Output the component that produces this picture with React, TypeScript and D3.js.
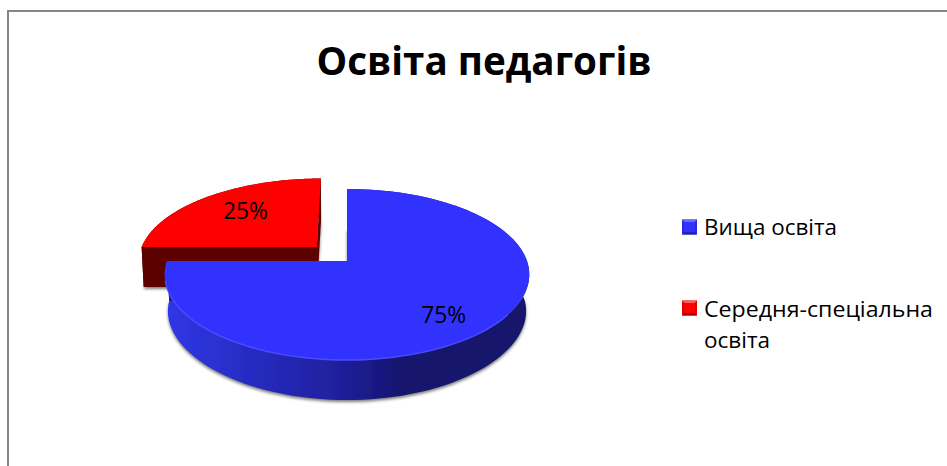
import React from "react";
import * as d3 from "d3";

const categories = ["Вища освіта", "Середня-спеціальна освіта"];
const shares = [75, 25];
const percentLabels = ["75%", "25%"];
const legendLines = [["Вища освіта"], ["Середня-спеціальна", "освіта"]];
const title = "Освіта педагогів";

const W = 947, H = 466;
const FONT = "'Open Sans', 'Noto Sans', sans-serif";
const APEX = { x: 347, y: 261 };
const RX = 180, RY = 83.4, PERSPECTIVE = -0.158, DEPTH = 40;
const BOTTOM_SCALE = [0.988, 0.99];
const BOTTOM_TAPER = [0.04, 0];
const EXPLODE = [0, 0.172];
const TOP_COLORS = ["#3333ff", "#ff0000"];
const WALL_COLORS = ["#1c1c90", "#5c0000"];
const MARKER_LIGHT = ["#6a6aff", "#ff5a5a"];
const MARKER_SIDE = ["#2c2cdc", "#e00000"];
const MARKER_DARK = ["#2020b4", "#b00000"];
const LABEL_NUDGE = [[0, 9], [7, 0]];
const LEGEND_BOX = [{ y: 219.5 }, { y: 300.5 }];
const LEGEND_BASE = [[235], [317, 348]];
const LEGEND_WIDTHS = [[133], [229, 66]];

type P = [number, number];
const project = (u: number, v: number, scale = 1, taper = 0, drop = 0): P => {
  const w = 1 + PERSPECTIVE * v;
  const s = scale - taper * Math.max(v, 0);
  return [APEX.x + (RX * u * s) / w, APEX.y + (RY * v) / w + drop];
};
const onPie = (angle: number, r: number, e: number, i = -1): P =>
  i < 0
    ? project(Math.sin(angle) * r - e, -Math.cos(angle) * r - e)
    : project(Math.sin(angle) * r - e, -Math.cos(angle) * r - e, BOTTOM_SCALE[i], BOTTOM_TAPER[i], DEPTH);

const line = d3.line<P>();
const arcs = d3.pie<number>().sort(null).startAngle(0).endAngle(2 * Math.PI)(shares);

const rim = (a: d3.PieArcDatum<number>, e: number, i = -1): P[] =>
  d3.range(0, 121).map((k) => {
    const t = a.startAngle + ((a.endAngle - a.startAngle) * k) / 120;
    return onPie(t, 1, e, i);
  });

const App = () => {
  const xGrad = d3.scaleLinear().domain([165, 528]).range([0, 1]);
  return (
    <svg width={W} height={H} viewBox={`0 0 ${W} ${H}`}
      style={{ position: "fixed", left: 0, top: 0, background: "#fff" }}>
      <defs>
        <linearGradient id="side" gradientUnits="userSpaceOnUse" x1={165} x2={528} y1={0} y2={0}>
          <stop offset={xGrad(165)} stopColor="#2f37e6" />
          <stop offset={xGrad(340)} stopColor="#1f1f9c" />
          <stop offset={xGrad(405)} stopColor="#14146c" />
          <stop offset={xGrad(528)} stopColor="#14146c" />
        </linearGradient>
        <filter id="soft" x="-10%" y="-10%" width="120%" height="120%">
          <feGaussianBlur stdDeviation="1.7" />
        </filter>
        <filter id="aa"><feGaussianBlur stdDeviation="0.4" /></filter>
      </defs>

      <path d={`M8 ${H}V11H${W}`} fill="none" stroke="#868686" strokeWidth={2} />

      <text x={484} y={75} textAnchor="middle" fontFamily={FONT} fontWeight={700}
        fontSize={40} fill="#000" textLength={335} lengthAdjust="spacingAndGlyphs">{title}</text>

      {arcs.map((a, i) => {
        const e = EXPLODE[i];
        const base = [onPie(0, 0, e, i), ...rim(a, e, i)];
        return <path key={i} d={line(base) + "Z"} transform="translate(0,2)" fill="#444"
          opacity={0.7} filter="url(#soft)" />;
      }).reverse()}

      {[1, 0].map((i) => {
        const a = arcs[i], e = EXPLODE[i];
        const top = rim(a, e), bot = rim(a, e, i);
        const apexTop = onPie(0, 0, e), apexBot = onPie(0, 0, e, i);
        const fill = i === 0 ? "url(#side)" : WALL_COLORS[1];
        return (
          <g key={i} filter="url(#aa)">
            <path d={line([...top, ...[...bot].reverse()]) + "Z"} fill={fill} />
            <path d={line([top[0], apexTop, apexBot, bot[0]]) + "Z"} fill={WALL_COLORS[i]} />
            <path d={line([top[120], apexTop, apexBot, bot[120]]) + "Z"} fill={WALL_COLORS[i]} />
            <path d={line([apexTop, ...top]) + "Z"} fill={TOP_COLORS[i]} />
            {i === 0 && <path d={line(top.filter((_, k) => k > 55 && k < 115))!} fill="none"
              stroke="#4c4cff" strokeWidth={1.4} />}
          </g>
        );
      })}

      {arcs.map((a, i) => {
        const mid = (a.startAngle + a.endAngle) / 2;
        const [x, y] = onPie(mid, 0.7, EXPLODE[i]);
        return <text key={i} x={x + LABEL_NUDGE[i][0]} y={y + LABEL_NUDGE[i][1] + 8} textAnchor="middle"
          fontFamily={FONT} fontSize={23} fill="#000" textLength={45}
          lengthAdjust="spacingAndGlyphs">{percentLabels[i]}</text>;
      })}

      {categories.map((c, i) => {
        const x0 = 682, s = 15, y0 = LEGEND_BOX[i].y;
        const cx = x0 + s / 2, cy = y0 + s / 2;
        return (
          <g key={c}>
            <g filter="url(#aa)">
              <rect x={x0} y={y0} width={s} height={s} fill={MARKER_SIDE[i]} />
              <path d={line([[x0, y0], [x0 + s, y0], [cx, cy]] as P[]) + "Z"} fill={MARKER_LIGHT[i]} />
              <path d={line([[x0, y0 + s], [x0 + s, y0 + s], [cx, cy]] as P[]) + "Z"} fill={MARKER_DARK[i]} />
              <rect x={x0 + 2} y={y0 + 2.5} width={s - 4} height={s - 5} fill={TOP_COLORS[i]} />
            </g>
            {legendLines[i].map((t, k) => (
              <text key={k} x={704} y={LEGEND_BASE[i][k]} fontFamily={FONT} fontSize={22.5}
                fill="#000" textLength={LEGEND_WIDTHS[i][k]}
                lengthAdjust="spacingAndGlyphs">{t}</text>
            ))}
          </g>
        );
      })}
    </svg>
  );
};

export default App;
